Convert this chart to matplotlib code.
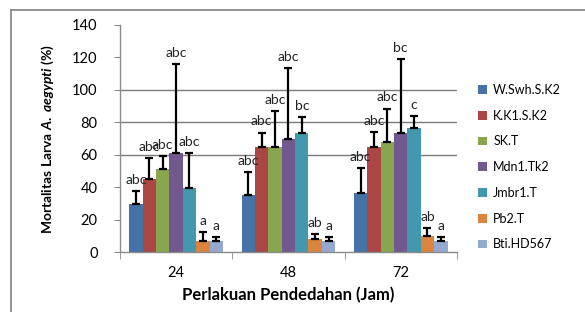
import numpy as np
import matplotlib
matplotlib.use('Agg')
import matplotlib.pyplot as plt
from matplotlib.lines import Line2D

# Data
kategori = ['24', '48', '72']
perlakuan = ['W.Swh.S.K2', 'K.K1.S.K2', 'SK.T', 'Mdn1.Tk2', 'Jmbr1.T', 'Pb2.T', 'Bti.HD567']
warna = ['#4572A7', '#AA4643', '#89A54E', '#71588F', '#4198AF', '#DB843D', '#93A9CF']

# mortality per treatment (rows) at 24, 48, 72 jam (columns)
mortalitas = [
    [29.6, 35.2, 36.2],
    [44.8, 64.8, 64.8],
    [51.2, 64.8, 67.9],
    [60.9, 69.8, 73.5],
    [39.5, 73.5, 76.5],
    [6.8, 7.8, 9.9],
    [6.8, 6.8, 6.8],
]
# upper error (standard deviation)
galat = [
    [8.2, 14.4, 15.4],
    [13.0, 8.9, 9.1],
    [7.8, 22.4, 20.6],
    [54.9, 43.6, 45.6],
    [21.8, 10.0, 7.2],
    [5.3, 3.1, 4.7],
    [2.7, 2.7, 2.7],
]
notasi = [
    ['abc', 'abc', 'abc'],
    ['abc', 'abc', 'abc'],
    ['abc', 'abc', 'abc'],
    ['abc', 'abc', 'bc'],
    ['abc', 'bc', 'c'],
    ['a', 'ab', 'ab'],
    ['a', 'a', 'a'],
]

plt.rcParams['font.family'] = ['Lato', 'DejaVu Sans']
plt.rcParams['mathtext.fontset'] = 'custom'
plt.rcParams['mathtext.it'] = 'Lato:italic:bold'
plt.rcParams['mathtext.rm'] = 'Lato:bold'

fig = plt.figure(figsize=(5.85, 3.12), dpi=100)
ax = fig.add_axes([0.205, 0.192, 0.576, 0.728])

x = np.arange(len(kategori))
lebar = 0.119
n = len(perlakuan)
for i in range(n):
    pos = x + (i - (n - 1) / 2) * lebar
    ax.bar(pos, mortalitas[i], lebar, color=warna[i], label=perlakuan[i], zorder=2)
    ax.errorbar(pos, mortalitas[i], yerr=[np.zeros(len(x)), galat[i]], fmt='none',
                ecolor='black', elinewidth=1.6, capsize=3, capthick=1.6, zorder=3)
    for j in range(len(x)):
        atas = mortalitas[i][j] + galat[i][j]
        ax.annotate(notasi[i][j], (pos[j], atas), xytext=(0, 8), textcoords='offset points',
                    ha='center', va='center', fontsize=10, color='#222222', zorder=4)

ax.set_ylim(0, 140)
ax.set_xlim(-0.5, 2.5)
ax.set_yticks(range(0, 141, 20))
for g in [60, 80, 100]:
    ax.axhline(g, color='#7a7a7a', lw=1.0, zorder=1)

ax.set_xticks(x)
ax.set_xticklabels(kategori)
ax.set_xticks([-0.5, 0.5, 1.5, 2.5], minor=True)
ax.tick_params(axis='x', which='major', length=0, pad=10, labelsize=10.5)
ax.tick_params(axis='x', which='minor', length=5, color='#8a8a8a', direction='out')
ax.tick_params(axis='y', length=4, color='#8a8a8a', labelsize=10.5, pad=12)

for s in ['top', 'right']:
    ax.spines[s].set_visible(False)
for s in ['left', 'bottom']:
    ax.spines[s].set_color('#8a8a8a')
    ax.spines[s].set_linewidth(1.0)

ax.set_xlabel('Perlakuan Pendedahan (Jam)', fontsize=12, fontweight='bold', labelpad=5)
ax.set_ylabel('Mortalitas Larva $A.\\ aegypti$ (%)', fontsize=10, fontweight='bold', labelpad=12)

leg = ax.legend(loc='upper left', bbox_to_anchor=(1.03, 0.79), frameon=False, fontsize=9,
                handlelength=0.7, handleheight=0.7, labelspacing=1.1, handletextpad=0.5)

# outer chart border (only top and left visible in the original crop)
fig.add_artist(Line2D([11 / 585, 11 / 585], [0, 1 - 10 / 312], transform=fig.transFigure,
                      color='#808080', lw=1.2))
fig.add_artist(Line2D([11 / 585, 1], [1 - 10 / 312, 1 - 10 / 312], transform=fig.transFigure,
                      color='#808080', lw=1.2))

plt.savefig('out.png', dpi=100)
plt.close()
